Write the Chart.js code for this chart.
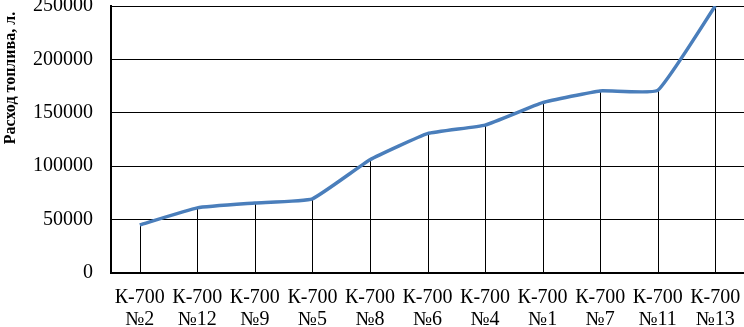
<!DOCTYPE html>
<html>
<head>
<meta charset="utf-8">
<script src="https://cdn.jsdelivr.net/npm/chart.js@4.4.0/dist/chart.umd.min.js"></script>
<style>
  html, body { margin: 0; padding: 0; background: #fff; }
  #wrap { width: 744px; height: 327px; position: relative; }
</style>
</head>
<body>
<div id="wrap"><canvas id="fuel-chart"></canvas></div>
<script>
const tractors = ["№2", "№12", "№9", "№5", "№8", "№6", "№4", "№1", "№7", "№11", "№13"];
const fuelUse = [45000, 61000, 65500, 69500, 106000, 130500, 138500, 159500, 170500, 171000, 250000];
const yTicks = [0, 50000, 100000, 150000, 200000, 250000];

const serif = "'Liberation Serif', 'DejaVu Serif', serif";

// vertical lines from each point down to the x axis
const dropLines = {
  id: 'dropLines',
  beforeDatasetsDraw(chart) {
    const ctx = chart.ctx;
    const meta = chart.getDatasetMeta(0);
    const y0 = chart.scales.y.getPixelForValue(0);
    ctx.save();
    ctx.strokeStyle = '#000';
    ctx.lineWidth = 1;
    meta.data.forEach(pt => {
      const x = Math.round(pt.x) + 0.5;
      ctx.beginPath();
      ctx.moveTo(x, pt.y);
      ctx.lineTo(x, y0);
      ctx.stroke();
    });
    ctx.restore();
  }
};

// axis title drawn by hand so it sits where the original one is
const yTitle = {
  id: 'yTitle',
  afterDraw(chart) {
    const ctx = chart.ctx;
    ctx.save();
    ctx.translate(11, 78);
    ctx.rotate(-Math.PI / 2);
    ctx.font = "bold 16px " + serif;
    ctx.fillStyle = '#000';
    ctx.textAlign = 'center';
    ctx.textBaseline = 'middle';
    ctx.fillText("Расход топлива, л.", 0, 0);
    ctx.restore();
  }
};

new Chart(document.getElementById("fuel-chart"), {
  type: 'line',
  data: {
    labels: tractors.map(t => ["К-700", t]),
    datasets: [{
      data: fuelUse,
      borderColor: '#4a7ebb',
      borderWidth: 3.5,
      pointRadius: 0,
      tension: 0.12,
      fill: false
    }]
  },
  options: {
    responsive: true,
    maintainAspectRatio: false,
    animation: false,
    layout: { padding: { top: 6, right: 0, left: 0, bottom: 0 } },
    plugins: { legend: { display: false }, tooltip: { enabled: false } },
    scales: {
      x: {
        offset: true,
        grid: { display: false, drawTicks: false },
        border: { color: '#000', width: 2 },
        ticks: {
          color: '#000',
          padding: 14,
          maxRotation: 0,
          autoSkip: false,
          font: { family: serif, size: 20, lineHeight: 1.1 }
        },
        afterFit(scale) {
          scale.height = 54;
          scale.paddingLeft = 0;
          scale.paddingRight = 0;
        }
      },
      y: {
        min: 0,
        max: 250000,
        afterBuildTicks(scale) { scale.ticks = yTicks.map(v => ({ value: v })); },
        grid: { color: '#000', lineWidth: 1, drawTicks: false },
        border: { color: '#000', width: 2 },
        ticks: {
          color: '#000',
          padding: 18,
          font: { family: serif, size: 20 },
          callback: v => String(v)
        },
        afterFit(scale) {
          scale.width = 111;
          scale.paddingTop = 0;
          scale.paddingBottom = 0;
        }
      }
    }
  },
  plugins: [dropLines, yTitle]
});
</script>
</body>
</html>
